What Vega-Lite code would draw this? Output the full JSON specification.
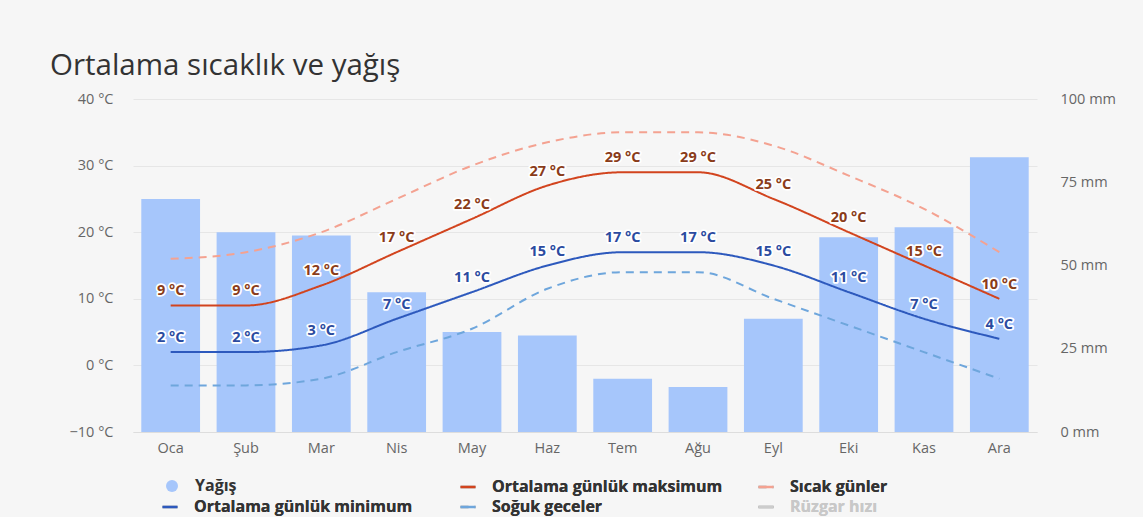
{
  "$schema": "https://vega.github.io/schema/vega-lite/v6.json",
  "width": 904,
  "height": 333,
  "autosize": {"type": "none"},
  "padding": {"left": 133, "top": 99, "right": 106, "bottom": 85},
  "background": "#f6f6f6",
  "title": {
    "text": "Ortalama sıcaklık ve yağış",
    "anchor": "start",
    "frame": "group",
    "dx": -83,
    "offset": 10,
    "fontSize": 29.5,
    "font": "Open Sans",
    "fontWeight": "normal",
    "color": "#333333"
  },
  "config": {
    "view": {"stroke": null},
    "font": "Open Sans",
    "axis": {"labelFont": "Open Sans", "labelFontSize": 14.5, "labelColor": "#666666", "title": null}
  },
  "data": {
    "values": [
      {"month": "Oca", "precip": 70, "max": 9, "min": 2, "hot": 16, "cold": -3},
      {"month": "Şub", "precip": 60, "max": 9, "min": 2, "hot": 17, "cold": -3},
      {"month": "Mar", "precip": 59, "max": 12, "min": 3, "hot": 20, "cold": -2},
      {"month": "Nis", "precip": 42, "max": 17, "min": 7, "hot": 25, "cold": 2},
      {"month": "May", "precip": 30, "max": 22, "min": 11, "hot": 30, "cold": 5.5},
      {"month": "Haz", "precip": 29, "max": 27, "min": 15, "hot": 33.5, "cold": 11.5},
      {"month": "Tem", "precip": 16, "max": 29, "min": 17, "hot": 35, "cold": 14},
      {"month": "Ağu", "precip": 13.5, "max": 29, "min": 17, "hot": 35, "cold": 14},
      {"month": "Eyl", "precip": 34, "max": 25, "min": 15, "hot": 33, "cold": 10},
      {"month": "Eki", "precip": 58.5, "max": 20, "min": 11, "hot": 28.5, "cold": 6},
      {"month": "Kas", "precip": 61.5, "max": 15, "min": 7, "hot": 23.5, "cold": 2},
      {"month": "Ara", "precip": 82.5, "max": 10, "min": 4, "hot": 17, "cold": -2}
    ]
  },
  "encoding": {
    "x": {
      "field": "month",
      "type": "ordinal",
      "sort": null,
      "scale": {"paddingInner": 0, "paddingOuter": 0},
      "axis": {
        "labelAngle": 0,
        "ticks": false,
        "domainColor": "#dddddd",
        "labelPadding": 9,
        "title": null
      }
    }
  },
  "layer": [
    {
      "mark": {"type": "bar", "width": {"band": 0.78}},
      "encoding": {
        "y": {
          "field": "precip",
          "type": "quantitative",
          "scale": {"domain": [0, 100], "nice": false},
          "axis": {
            "orient": "right",
            "values": [0, 25, 50, 75, 100],
            "labelExpr": "datum.value + ' mm'",
            "grid": false,
            "domain": false,
            "ticks": false,
            "labelPadding": 23,
            "title": null
          }
        },
        "color": {
          "datum": "Yağış",
          "type": "nominal",
          "scale": {"domain": ["Yağış"], "range": ["#a6c6fb"]},
          "legend": {
            "orient": "none",
            "legendX": 31,
            "legendY": 379,
            "padding": 0,
            "title": null,
            "symbolType": "circle",
            "symbolSize": 144,
            "symbolStrokeWidth": 0,
            "labelFont": "Open Sans",
            "labelFontSize": 16,
            "labelFontWeight": "bold",
            "labelColor": "#333333",
            "labelOffset": 15
          }
        }
      }
    },
    {
      "encoding": {
        "y": {
          "field": "temp",
          "type": "quantitative",
          "scale": {"domain": [-10, 40], "nice": false},
          "axis": {
            "orient": "left",
            "values": [-10, 0, 10, 20, 30, 40],
            "labelExpr": "format(datum.value, 'd') + ' °C'",
            "grid": true,
            "gridColor": "#e6e6e6",
            "domain": false,
            "ticks": false,
            "labelPadding": 20,
            "title": null
          }
        }
      },
      "layer": [
        {
          "transform": [{"fold": ["hot", "cold", "max", "min"], "as": ["series", "temp"]}],
          "mark": {"type": "line", "interpolate": "monotone", "strokeWidth": 2},
          "encoding": {
            "strokeDash": {
              "field": "series",
              "type": "nominal",
              "scale": {
                "domain": ["pad", "max", "hot", "min", "cold", "wind"],
                "range": [[0, 100], [1, 0], [8, 6], [1, 0], [8, 6], [1, 0]]
              },
              "legend": {
                "orient": "none",
                "legendX": 28,
                "legendY": 379,
                "direction": "horizontal",
                "columns": 3,
                "gridAlign": "all",
                "columnPadding": 30,
                "rowPadding": 3,
                "padding": 0,
                "title": null,
                "symbolSize": 225,
                "symbolStrokeWidth": 2.5,
                "labelFont": "Open Sans",
                "labelFontSize": 16,
                "labelFontWeight": "bold",
                "labelColor": {"expr": "datum.value === 'wind' ? '#c8c8c8' : '#333333'"},
                "labelOffset": 15,
                "labelLimit": 400,
                "labelExpr": "datum.value === 'max' ? 'Ortalama günlük maksimum' : datum.value === 'hot' ? 'Sıcak günler' : datum.value === 'min' ? 'Ortalama günlük minimum' : datum.value === 'cold' ? 'Soğuk geceler' : datum.value === 'wind' ? 'Rüzgar hızı' : ''"
              }
            },
            "color": {
              "field": "series",
              "type": "nominal",
              "scale": {
                "domain": ["pad", "max", "hot", "min", "cold", "wind"],
                "range": ["transparent", "#d2441e", "#f4a291", "#2d59bd", "#6ea6dc", "#cccccc"]
              },
              "legend": {
                "orient": "none",
                "legendX": 28,
                "legendY": 379,
                "direction": "horizontal",
                "columns": 3,
                "gridAlign": "all",
                "columnPadding": 30,
                "rowPadding": 3,
                "padding": 0,
                "title": null,
                "symbolSize": 225,
                "symbolStrokeWidth": 2.5,
                "labelFont": "Open Sans",
                "labelFontSize": 16,
                "labelFontWeight": "bold",
                "labelColor": {"expr": "datum.value === 'wind' ? '#c8c8c8' : '#333333'"},
                "labelOffset": 15,
                "labelLimit": 400,
                "labelExpr": "datum.value === 'max' ? 'Ortalama günlük maksimum' : datum.value === 'hot' ? 'Sıcak günler' : datum.value === 'min' ? 'Ortalama günlük minimum' : datum.value === 'cold' ? 'Soğuk geceler' : datum.value === 'wind' ? 'Rüzgar hızı' : ''"
              }
            }
          }
        },
        {
          "transform": [
            {"fold": ["max", "min"], "as": ["series", "temp"]},
            {"calculate": "datum.temp + ' °C'", "as": "label"}
          ],
          "mark": {
            "type": "text",
            "dy": -14,
            "fontSize": 14.5,
            "fontWeight": "bold",
            "font": "Open Sans",
            "stroke": "#ffffff",
            "strokeWidth": 3.5,
            "strokeJoin": "round",
            "fill": "#ffffff"
          },
          "encoding": {"text": {"field": "label"}}
        },
        {
          "transform": [
            {"fold": ["max", "min"], "as": ["series", "temp"]},
            {"calculate": "datum.temp + ' °C'", "as": "label"}
          ],
          "mark": {"type": "text", "dy": -14, "fontSize": 14.5, "fontWeight": "bold", "font": "Open Sans"},
          "encoding": {
            "text": {"field": "label"},
            "color": {"condition": {"test": "datum.series === 'max'", "value": "#8a3c1a"}, "value": "#2b4ba0"}
          }
        }
      ]
    }
  ],
  "resolve": {"scale": {"y": "independent", "color": "independent"}}
}
